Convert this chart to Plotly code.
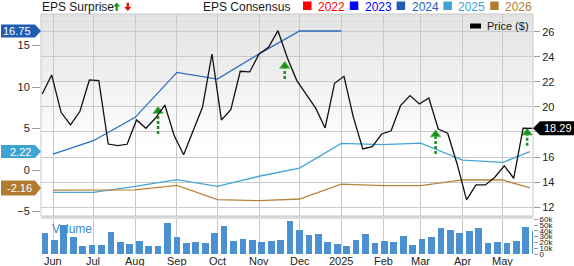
import plotly.graph_objects as go
import pandas as pd

# ---------------- data ----------------
week_start = "2024-05-24"
price = [21.03, 22.55, 19.57, 18.56, 19.65, 22.15, 22.10, 17.04, 16.91, 17.02,
         18.96, 18.30, 19.09, 20.15, 17.70, 16.19, 18.10, 19.97, 24.22, 18.96,
         19.78, 22.84, 22.79, 24.22, 24.75, 26.08, 23.90, 22.10, 21.00, 19.90,
         18.32, 21.88, 22.44, 19.17, 16.65, 16.83, 17.84, 18.10, 20.10, 20.90,
         20.23, 20.71, 18.24, 17.90, 15.45, 12.58, 13.78, 13.78, 14.39, 15.31,
         14.31, 18.30, 18.29]
volume = [36.3, 24.2, 50.7, 28.9, 14.4, 16.1, 15.0, 38.6, 20.2, 17.3,
          22.0, 14.4, 14.4, 53.0, 28.9, 19.6, 20.8, 19.6, 36.3, 49.0,
          23.0, 26.0, 24.2, 20.8, 23.0, 24.2, 57.6, 41.5, 33.4, 34.6,
          20.8, 17.3, 14.4, 24.2, 34.6, 19.6, 22.0, 20.2, 31.1, 16.1,
          26.0, 28.9, 44.5, 41.5, 35.8, 39.2, 45.0, 18.5, 20.8, 18.5,
          23.0, 47.2, 40.3]  # thousands

cons_dates = ["2024-06-01", "2024-07-01", "2024-08-01", "2024-09-01", "2024-10-01",
              "2024-11-01", "2024-12-01", "2025-01-01", "2025-02-01", "2025-03-01",
              "2025-04-01", "2025-05-01", "2025-05-21"]
eps_2024 = [1.93, 3.53, 6.35, 11.77, 10.96, 14.0, 16.75, 16.75]
eps_2025 = [-2.69, -2.69, -1.97, -1.17, -1.96, -0.75, 0.24, 3.21, 3.05, 3.25, 1.20, 0.93, 2.22]
eps_2026 = [-2.43, -2.41, -2.40, -1.85, -3.57, -3.69, -3.49, -1.69, -1.89, -1.89, -1.20, -1.20, -2.16]

surprise_dates = ["2024-08-18", "2024-11-20", "2025-03-12", "2025-05-19"]
surprise_from = [4.34, 10.96, 1.93, 2.93]
surprise_to = [7.55, 12.98, 4.73, 4.94]

month_ticks = ["2024-06-01", "2024-07-01", "2024-08-01", "2024-09-01", "2024-10-01",
               "2024-11-01", "2024-12-01", "2025-01-01", "2025-02-01", "2025-03-01",
               "2025-04-01", "2025-05-01"]
month_labels = ["Jun", "Jul", "Aug", "Sep", "Oct", "Nov", "Dec", "2025", "Feb", "Mar", "Apr", "May"]

eps_ticks = [-5, 0, 5, 10, 15]
price_ticks = [12, 14, 16, 18, 20, 22, 24, 26]
price_labels = ["12", "14", "16", "", "20", "22", "24", "26"]  # 18 hidden behind the last-price badge
vol_ticks = [0, 10, 20, 30, 40, 50, 60]
vol_labels = ["0", "10k", "20k", "30k", "40k", "50k", "60k"]

legend_years = ["2022", "2023", "2024", "2025", "2026"]
legend_colors = ["#ff0000", "#0000ff", "#1f5db5", "#3ea2d2", "#b27c2e"]

# ---------------- styling ----------------
W, H = 574, 266
L, R, T, B = 41, 533, 14, 254
FONT = "Liberation Sans, Arial, sans-serif"
C2024, C2025, C2026 = "#2e6ebd", "#45a6d6", "#b8843c"
GRID = "#c9c9c9"
GREEN = "#1d8f1d"


def px(xp):
    return (xp - L) / (R - L)


def py(yp):
    return (B - yp) / (B - T)


dates = pd.date_range(week_start, periods=len(price), freq="7D")
bar_dates = dates + pd.Timedelta(days=2)

fig = go.Figure()

fig.add_trace(go.Bar(x=bar_dates, y=[v * 1000 for v in volume], xaxis="x2", yaxis="y3",
                     marker=dict(color="#4b90d0", line=dict(width=0)),
                     width=5 * 24 * 3600 * 1000, showlegend=False))

fig.add_trace(go.Scatter(x=cons_dates[:len(eps_2024)], y=eps_2024, mode="lines",
                         line=dict(color=C2024, width=1.3), showlegend=False))
fig.add_trace(go.Scatter(x=cons_dates, y=eps_2025, mode="lines",
                         line=dict(color=C2025, width=1.3), showlegend=False))
fig.add_trace(go.Scatter(x=cons_dates, y=eps_2026, mode="lines",
                         line=dict(color=C2026, width=1.3), showlegend=False))

fig.add_trace(go.Scatter(x=dates, y=price, yaxis="y2", mode="lines",
                         line=dict(color="#111111", width=1.3), showlegend=False))

# surprise arrows
sx, sy = [], []
for d, a, b in zip(surprise_dates, surprise_from, surprise_to):
    sx += [d, d, None]
    sy += [a, b - 0.6, None]
fig.add_trace(go.Scatter(x=sx, y=sy, mode="lines",
                         line=dict(color=GREEN, width=2.5, dash="3px,2px"), showlegend=False))
fig.add_trace(go.Scatter(x=surprise_dates, y=[b - 0.45 for b in surprise_to], mode="markers",
                         marker=dict(symbol="triangle-up", size=9, color=GREEN,
                                     line=dict(color="#5cbf5c", width=0.8)),
                         showlegend=False))

shapes = []
# gradient background of main panel
N = 28
top_c, bot_y = 226, 150
for i in range(N):
    y0 = T + (bot_y - T) * i / N
    y1 = T + (bot_y - T) * (i + 1) / N
    c = int(top_c + (255 - top_c) * i / (N - 1))
    shapes.append(dict(type="rect", xref="paper", yref="paper", x0=0, x1=1,
                       y0=py(y1), y1=py(y0), fillcolor=f"rgb({c},{c},{c})",
                       line=dict(width=0), layer="below"))
# separator band
shapes.append(dict(type="rect", xref="paper", yref="paper", x0=0, x1=1,
                   y0=py(219), y1=py(216), fillcolor="#dcdcdc", line=dict(width=0), layer="above"))
# frame
shapes.append(dict(type="rect", xref="paper", yref="paper", x0=0, x1=1,
                   y0=py(216), y1=1, fillcolor="rgba(0,0,0,0)", line=dict(color=GRID, width=1), layer="above"))


# badges
def left_badge(val, color, half=6.5):
    shapes.append(dict(type="path", xref="paper", yref="y", xsizemode="pixel", ysizemode="pixel",
                       xanchor=0, yanchor=val,
                       path=f"M -40,-{half} L -6,-{half} L 0,0 L -6,{half} L -40,{half} Z",
                       fillcolor=color, line=dict(width=0), layer="above"))


left_badge(16.75, "#1f5db5")
left_badge(2.22, "#3ea2d2")
left_badge(-2.16, "#b27c2e", 7.5)
shapes.append(dict(type="path", xref="paper", yref="y2", xsizemode="pixel", ysizemode="pixel",
                   xanchor=1, yanchor=18.29,
                   path="M 0,0 L 7,-7 L 41,-7 L 41,7 L 7,7 Z",
                   fillcolor="#000000", line=dict(width=0), layer="above"))

# legend arrows (EPS surprise up / down)
shapes.append(dict(type="path", xref="paper", yref="paper", xsizemode="pixel", ysizemode="pixel",
                   xanchor=px(116.7), yanchor=py(6.7),
                   path="M -1.2,-4 L 1.2,-4 L 1.2,0.3 L 3.6,0.3 L 0,4.2 L -3.6,0.3 L -1.2,0.3 Z",
                   fillcolor="#1a9a1a", line=dict(width=0)))
shapes.append(dict(type="path", xref="paper", yref="paper", xsizemode="pixel", ysizemode="pixel",
                   xanchor=px(127.8), yanchor=py(6.7),
                   path="M -1.2,4 L 1.2,4 L 1.2,-0.3 L 3.6,-0.3 L 0,-4.2 L -3.6,-0.3 L -1.2,-0.3 Z",
                   fillcolor="#e01010", line=dict(width=0)))

# legend squares
for i, c in enumerate(legend_colors):
    x0 = 303 + i * 46.8
    shapes.append(dict(type="rect", xref="paper", yref="paper", x0=px(x0), x1=px(x0 + 8.5),
                       y0=py(10), y1=py(1.5), fillcolor=c, line=dict(width=0)))
# price legend swatch
shapes.append(dict(type="rect", xref="paper", yref="paper", x0=px(470), x1=px(481),
                   y0=py(28.5), y1=py(23.5), fillcolor="#000000", line=dict(width=0)))

ann = []
ann.append(dict(xref="paper", yref="paper", x=px(40), y=py(7), xanchor="left", yanchor="middle",
                text="EPS Surprise", showarrow=False, font=dict(size=12, color="#1a1a1a", family=FONT)))
ann.append(dict(xref="paper", yref="paper", x=px(201), y=py(7), xanchor="left", yanchor="middle",
                text="EPS Consensus", showarrow=False, font=dict(size=12, color="#1a1a1a", family=FONT)))
for i, (yr, c) in enumerate(zip(legend_years, legend_colors)):
    ann.append(dict(xref="paper", yref="paper", x=px(316 + i * 46.8), y=py(7), xanchor="left",
                    yanchor="middle", text=yr, showarrow=False, font=dict(size=12, color=c, family=FONT)))
ann.append(dict(xref="paper", yref="paper", x=px(485), y=py(26), xanchor="left", yanchor="middle",
                text="Price ($)", showarrow=False, font=dict(size=11, color="#1a1a1a", family=FONT)))
ann.append(dict(xref="paper", yref="paper", x=px(50), y=py(229), xanchor="left", yanchor="middle",
                text="Volume", showarrow=False, font=dict(size=12, color="#3a8ad2", family=FONT)))
for val, xc in [(16.75, 17), (2.22, 20.5), (-2.16, 19)]:
    ann.append(dict(xref="paper", yref="y", x=px(xc), y=val, xanchor="center", yanchor="middle",
                    text=f"{val:.2f}", showarrow=False, font=dict(size=11, color="#ffffff", family=FONT)))
ann.append(dict(xref="paper", yref="y2", x=px(557.5), y=18.29, xanchor="center", yanchor="middle",
                text="18.29", showarrow=False, font=dict(size=11, color="#ffffff", family=FONT)))
# month labels along the bottom axis
for d, lab in zip(month_ticks, month_labels):
    ann.append(dict(xref="x2", yref="paper", x=d, y=py(260.5), xanchor="center", yanchor="middle",
                    text=lab, showarrow=False, font=dict(size=11, color="#222222", family=FONT)))

xr = ["2024-05-23 02:00", "2025-05-23 08:00"]
tickfont = dict(size=11, color="#222222", family=FONT)

fig.update_layout(
    width=W, height=H,
    margin=dict(l=L, r=W - R, t=T, b=H - B, pad=0, autoexpand=False),
    paper_bgcolor="#ffffff", plot_bgcolor="rgba(0,0,0,0)",
    showlegend=False, bargap=0,
    shapes=shapes, annotations=ann,
    font=dict(family=FONT, size=11, color="#222222"),
    xaxis=dict(domain=[0, 1], anchor="y", type="date", range=xr, tickvals=month_ticks,
               showticklabels=False, showgrid=True, gridcolor=GRID, gridwidth=1,
               zeroline=False, ticks="", automargin=False),
    xaxis2=dict(domain=[0, 1], anchor="y3", type="date", range=xr, matches="x",
                tickvals=month_ticks, showticklabels=False, showgrid=True, gridcolor=GRID,
                gridwidth=1, zeroline=False, ticks="", automargin=False),
    yaxis=dict(domain=[py(216), 1], anchor="x", range=[-5.54, 18.8], tickvals=eps_ticks,
               ticks="outside", ticklen=8, tickcolor="#999999", showgrid=False,
               zeroline=False, tickfont=tickfont, side="left", automargin=False),
    yaxis2=dict(overlaying="y", anchor="x", side="right", range=[11.30, 27.41],
                tickvals=price_ticks, ticktext=price_labels, ticks="outside", ticklen=6,
                tickcolor="#999999", showgrid=True, gridcolor=GRID, gridwidth=1,
                zeroline=False, tickfont=tickfont, automargin=False),
    yaxis3=dict(domain=[0, py(219)], anchor="x2", side="right", range=[0, 60500],
                tickvals=[v * 1000 for v in vol_ticks], ticktext=vol_labels, ticks="outside",
                ticklen=4, tickcolor="#999999", showgrid=False, zeroline=False,
                tickfont=dict(size=8, color="#222222", family=FONT), automargin=False),
)

fig.write_html("out.html")
